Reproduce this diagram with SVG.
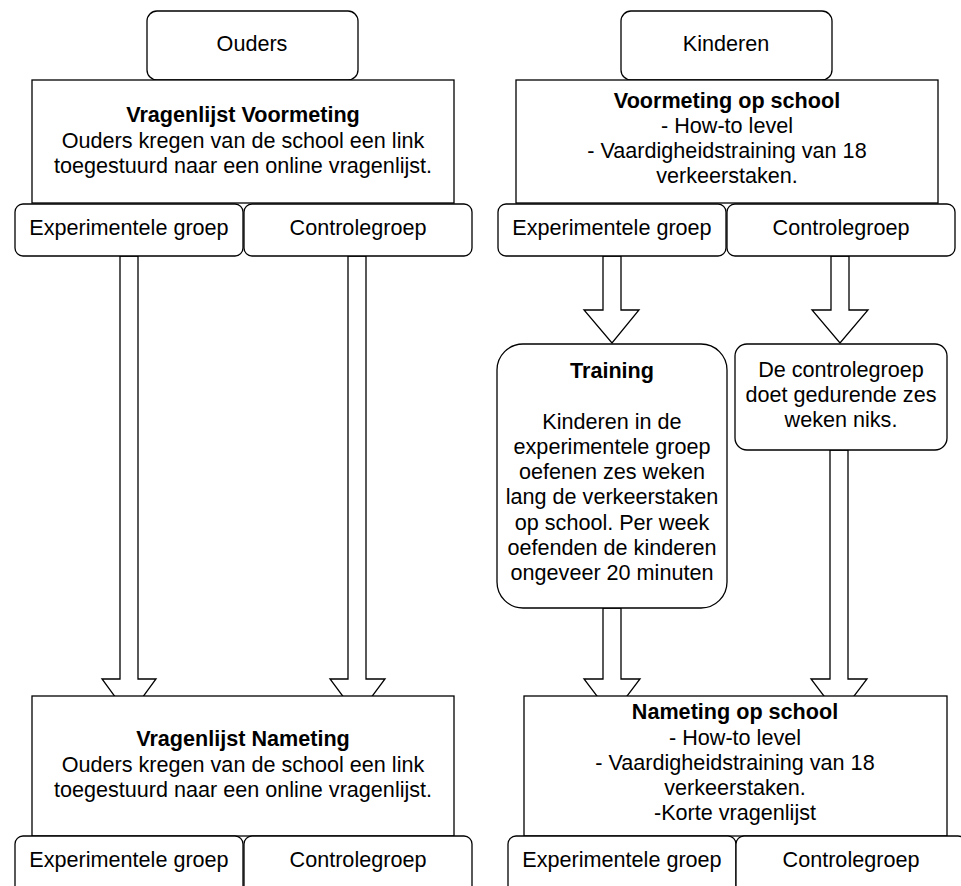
<svg xmlns="http://www.w3.org/2000/svg" width="961" height="886" viewBox="0 0 961 886">
<style>
.box{fill:#fff;stroke:#000;stroke-width:1.3}
.arr{fill:#fff;stroke:#000;stroke-width:1.3;stroke-linejoin:miter}
text{font-family:"Liberation Sans",Arial,sans-serif;font-size:21.6px;fill:#000;text-anchor:middle}
.b{font-weight:bold}
</style>
<rect width="961" height="886" fill="#fff"/>
<g id="connectors">
<polygon class="arr" points="120,256 138,256 138,679 156,679 129,716 102,679 120,679"/>
<polygon class="arr" points="348,256 366,256 366,679 385,679 357.5,716 330,679 348,679"/>
<polygon class="arr" points="603,256 621,256 621,310 639,310 612,343 584,310 603,310"/>
<polygon class="arr" points="831,256 849,256 849,310 868,310 840,343 812,310 831,310"/>
<polygon class="arr" points="603,608 621,608 621,679 640,679 612,716 584,679 603,679"/>
<polygon class="arr" points="830,450 848,450 848,679 867,679 839,716 811,679 830,679"/>
</g>
<g id="ouders"><rect class="box" x="147" y="11" width="211" height="69" rx="10"/><text x="252" y="51">Ouders</text></g>
<g id="kinderen"><rect class="box" x="621" y="11" width="211" height="69" rx="10"/><text x="726" y="51">Kinderen</text></g>
<g id="voormeting-ouders"><rect class="box" x="32" y="80" width="422" height="123"/>
<text class="b" x="243" y="122">Vragenlijst Voormeting</text>
<text x="243" y="148">Ouders kregen van de school een link</text>
<text x="243" y="173">toegestuurd naar een online vragenlijst.</text></g>
<g id="exp1"><rect class="box" x="15" y="204" width="228" height="52" rx="8"/><text x="129" y="235">Experimentele groep</text></g>
<g id="ctrl1"><rect class="box" x="244" y="204" width="228" height="52" rx="8"/><text x="358" y="235">Controlegroep</text></g>
<g id="voormeting-kinderen"><rect class="box" x="516" y="80" width="422" height="123"/>
<text class="b" x="727" y="108">Voormeting op school</text>
<text x="727" y="133">- How-to level</text>
<text x="727" y="158">- Vaardigheidstraining van 18</text>
<text x="727" y="183">verkeerstaken.</text></g>
<g id="exp2"><rect class="box" x="498" y="204" width="228" height="52" rx="8"/><text x="612" y="235">Experimentele groep</text></g>
<g id="ctrl2"><rect class="box" x="727" y="204" width="228" height="52" rx="8"/><text x="841" y="235">Controlegroep</text></g>
<g id="training"><rect class="box" x="497" y="344" width="230" height="264" rx="26"/>
<text class="b" x="612" y="378">Training</text>
<text x="612" y="429">Kinderen in de</text>
<text x="612" y="454">experimentele groep</text>
<text x="612" y="479">oefenen zes weken</text>
<text x="612" y="504">lang de verkeerstaken</text>
<text x="612" y="530">op school. Per week</text>
<text x="612" y="555">oefenden de kinderen</text>
<text x="612" y="580">ongeveer 20 minuten</text></g>
<g id="niks"><rect class="box" x="735" y="344" width="212" height="106" rx="12"/>
<text x="841" y="377">De controlegroep</text>
<text x="841" y="402">doet gedurende zes</text>
<text x="841" y="427">weken niks.</text></g>
<g id="nameting-ouders"><rect class="box" x="32" y="696" width="422" height="140"/>
<text class="b" x="243" y="746">Vragenlijst Nameting</text>
<text x="243" y="772">Ouders kregen van de school een link</text>
<text x="243" y="797">toegestuurd naar een online vragenlijst.</text></g>
<g id="exp3"><rect class="box" x="15" y="836" width="228" height="60" rx="8"/><text x="129" y="867">Experimentele groep</text></g>
<g id="ctrl3"><rect class="box" x="244" y="836" width="228" height="60" rx="8"/><text x="358" y="867">Controlegroep</text></g>
<g id="nameting-kinderen"><rect class="box" x="524" y="696" width="423" height="140"/>
<text class="b" x="735" y="719">Nameting op school</text>
<text x="735" y="745">- How-to level</text>
<text x="735" y="770">- Vaardigheidstraining van 18</text>
<text x="735" y="795">verkeerstaken.</text>
<text x="735" y="820">-Korte vragenlijst</text></g>
<g id="exp4"><rect class="box" x="508" y="836" width="228" height="60" rx="8"/><text x="622" y="867">Experimentele groep</text></g>
<g id="ctrl4"><rect class="box" x="736" y="836" width="230" height="60" rx="8"/><text x="851" y="867">Controlegroep</text></g>
</svg>
